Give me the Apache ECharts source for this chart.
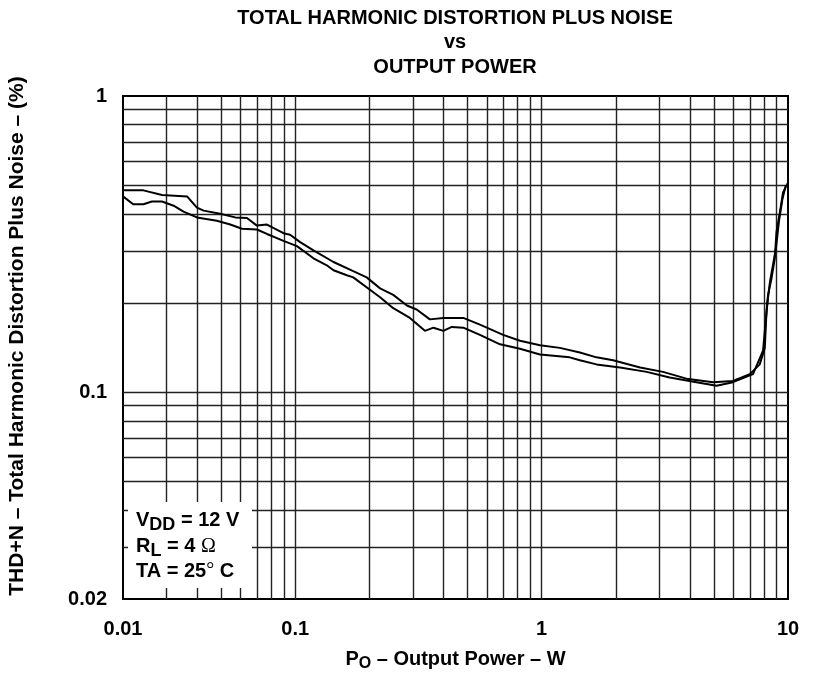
<!DOCTYPE html>
<html>
<head>
<meta charset="UTF-8">
<title>THD+N vs Output Power</title>
<script src="https://cdn.jsdelivr.net/npm/echarts@6/dist/echarts.min.js"></script>
<style>
  html, body { margin: 0; padding: 0; background: #fff; }
  #chart { width: 814px; height: 677px; }
</style>
</head>
<body>
<div id="chart"></div>
<script>
// curve that starts higher at low power
const powerA = [0.0201, 0.0242, 0.0288, 0.0364, 0.0399, 0.0425, 0.0496, 0.0571, 0.0637, 0.0699,
  0.0768, 0.0896, 0.0953, 0.1047, 0.1186, 0.143, 0.172, 0.195, 0.221, 0.250,
  0.284, 0.311, 0.352, 0.399, 0.481, 0.562, 0.698, 0.817, 0.985, 1.186,
  1.43, 1.67, 1.95, 2.51, 3.11, 3.87, 4.97, 5.98, 7.0, 7.68,
  8.05, 8.18, 8.30, 8.57, 8.84, 8.98, 9.27, 9.55, 10];
const thdA = [0.48, 0.48, 0.463, 0.458, 0.42, 0.41, 0.40, 0.389, 0.387, 0.365,
  0.368, 0.344, 0.34, 0.321, 0.301, 0.275, 0.256, 0.244, 0.224, 0.213,
  0.196, 0.19, 0.176, 0.178, 0.178, 0.169, 0.156, 0.149, 0.144, 0.141,
  0.136, 0.131, 0.128, 0.121, 0.117, 0.111, 0.108, 0.109, 0.115, 0.124,
  0.141, 0.187, 0.213, 0.242, 0.283, 0.347, 0.405, 0.472, 0.51];

// curve that starts lower at low power
const powerB = [0.02, 0.0220, 0.0242, 0.0262, 0.0288, 0.0321, 0.0352, 0.0399, 0.0481, 0.0545,
  0.0608, 0.0699, 0.0768, 0.0896, 0.1016, 0.1186, 0.1343, 0.143, 0.162, 0.172,
  0.221, 0.250, 0.292, 0.336, 0.364, 0.399, 0.432, 0.481, 0.562, 0.678,
  0.817, 0.985, 1.30, 1.43, 1.67, 2.08, 2.67, 3.31, 4.25, 5.13,
  5.98, 7.21, 7.92, 8.1, 8.25, 8.45, 8.7, 8.95, 9.2, 9.5, 9.8];
const thdB = [0.458, 0.431, 0.431, 0.44, 0.44, 0.426, 0.407, 0.389, 0.379, 0.368,
  0.356, 0.354, 0.342, 0.324, 0.311, 0.283, 0.268, 0.258, 0.248, 0.244,
  0.209, 0.192, 0.178, 0.161, 0.165, 0.161, 0.166, 0.165, 0.156, 0.145,
  0.14, 0.134, 0.131, 0.128, 0.124, 0.121, 0.117, 0.112, 0.108, 0.105,
  0.108, 0.115, 0.138, 0.17, 0.2, 0.236, 0.27, 0.31, 0.38, 0.45, 0.5];

// grid lines and tick labels
const xGridValues = [0.03, 0.04, 0.05, 0.06, 0.07, 0.08, 0.09, 0.1,
  0.2, 0.3, 0.4, 0.5, 0.6, 0.7, 0.8, 0.9, 1, 2, 3, 4, 5, 6, 7, 8, 9];
const yGridValues = [0.03, 0.04, 0.05, 0.06, 0.07, 0.08, 0.09, 0.1,
  0.2, 0.3, 0.4, 0.5, 0.6, 0.7, 0.8, 0.9];
const xTickValues = [0.02, 0.1, 1, 10];
const xTickLabels = ['0.01', '0.1', '1', '10'];
const yTickValues = [0.02, 0.1, 1];
const yTickLabels = ['0.02', '0.1', '1'];

const FONT = 'Liberation Sans, Arial, sans-serif';

function pick(values, labels, v) {
  for (let i = 0; i < values.length; i++) {
    if (Math.abs(Math.log10(values[i]) - Math.log10(v)) < 0.01) return labels[i];
  }
  return '';
}

const chart = echarts.init(document.getElementById('chart'));

const gridLines = xGridValues.map(v => ({ xAxis: v }))
  .concat(yGridValues.map(v => ({ yAxis: v })));

const lineStyle = { color: '#000', width: 2 };

chart.setOption({
  animation: false,
  backgroundColor: '#fff',
  grid: {
    left: 123, right: 26, top: 96, bottom: 73,
    show: true, borderColor: '#000', borderWidth: 2, backgroundColor: 'transparent'
  },
  xAxis: {
    type: 'log', logBase: 10, min: 0.02, max: 10,
    name: '{a|P}{s|O}{a| \u2013 Output Power \u2013 W}',
    nameLocation: 'middle', nameGap: 47,
    nameTextStyle: {
      rich: {
        a: { fontFamily: FONT, fontWeight: 'bold', fontSize: 20, color: '#000' },
        s: { fontFamily: FONT, fontWeight: 'bold', fontSize: 16, color: '#000', padding: [10, 0, 0, 0] }
      }
    },
    axisLine: { show: true, lineStyle: { color: '#000', width: 2 } },
    axisTick: { show: false },
    splitLine: { show: false },
    axisLabel: {
      showMinLabel: true, showMaxLabel: true, margin: 20,
      fontFamily: FONT, fontWeight: 'bold', fontSize: 20, color: '#000',
      formatter: v => pick(xTickValues, xTickLabels, v)
    }
  },
  yAxis: {
    type: 'log', logBase: 10, min: 0.02, max: 1,
    axisLine: { show: true, lineStyle: { color: '#000', width: 2 } },
    axisTick: { show: false },
    splitLine: { show: false },
    axisLabel: {
      showMinLabel: true, showMaxLabel: true, margin: 16,
      fontFamily: FONT, fontWeight: 'bold', fontSize: 20, color: '#000',
      formatter: v => pick(yTickValues, yTickLabels, v)
    }
  },
  graphic: [
    {
      type: 'text', x: 455, y: 6, z: 100,
      style: {
        text: 'TOTAL HARMONIC DISTORTION PLUS NOISE\nvs\nOUTPUT POWER',
        textAlign: 'center', fontFamily: FONT, fontWeight: 'bold', fontSize: 20,
        lineHeight: 24.5, fill: '#000'
      }
    },
    {
      type: 'text', x: 17, y: 336, rotation: Math.PI / 2, z: 100,
      style: {
        text: 'THD+N \u2013 Total Harmonic Distortion Plus Noise \u2013 (%)',
        textAlign: 'center', textVerticalAlign: 'middle',
        fontFamily: FONT, fontWeight: 'bold', fontSize: 21, fill: '#000'
      }
    },
    {
      type: 'rect', z: 100,
      shape: { x: 128, y: 502, width: 124, height: 86 },
      style: { fill: '#fff' }
    },
    {
      type: 'text', x: 136, y: 507, z: 101,
      style: {
        text: '{a|V}{s|DD}{a| = 12 V}',
        rich: {
          a: { fontFamily: FONT, fontWeight: 'bold', fontSize: 20, fill: '#000' },
          s: { fontFamily: FONT, fontWeight: 'bold', fontSize: 18, fill: '#000', padding: [9, 0, 0, 0] }
        }
      }
    },
    {
      type: 'text', x: 136, y: 533, z: 101,
      style: {
        text: '{a|R}{s|L}{a| = 4 }{o|\u03a9}',
        rich: {
          a: { fontFamily: FONT, fontWeight: 'bold', fontSize: 20, fill: '#000' },
          s: { fontFamily: FONT, fontWeight: 'bold', fontSize: 18, fill: '#000', padding: [9, 0, 0, 0] },
          o: { fontFamily: 'Liberation Serif, serif', fontSize: 20, fill: '#000' }
        }
      }
    },
    {
      type: 'text', x: 136, y: 561, z: 101,
      style: {
        text: '{a|TA = 25}{d|\u00b0}{a| C}',
        rich: {
          a: { fontFamily: FONT, fontWeight: 'bold', fontSize: 20, fill: '#000' },
          d: { fontFamily: 'Liberation Serif, serif', fontSize: 20, fill: '#000' }
        }
      }
    }
  ],
  series: [
    {
      name: 'A', type: 'line', data: powerA.map((p, i) => [p, thdA[i]]),
      showSymbol: false, symbol: 'none', lineStyle: lineStyle, z: 5,
      markLine: {
        silent: true, symbol: ['none', 'none'], label: { show: false },
        lineStyle: { color: '#222', width: 1.4, type: 'solid' },
        emphasis: { disabled: true },
        data: gridLines
      }
    },
    {
      name: 'B', type: 'line', data: powerB.map((p, i) => [p, thdB[i]]),
      showSymbol: false, symbol: 'none', lineStyle: lineStyle, z: 5
    }
  ]
});
</script>
</body>
</html>
